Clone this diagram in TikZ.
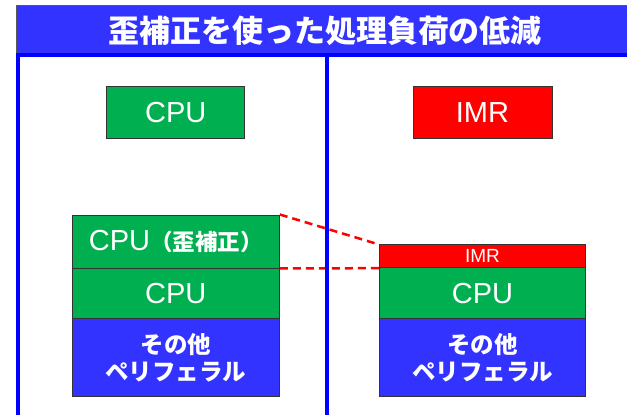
\documentclass[tikz,border=0pt]{standalone}
\usepackage{fontspec}
\setmainfont{Liberation Sans}
\newfontfamily\jp{Noto Sans CJK JP}
\definecolor{grn}{HTML}{00B050}
\definecolor{periblue}{HTML}{3333FF}
\definecolor{titleblue}{HTML}{3333FF}
\definecolor{framblue}{HTML}{0000FF}
\begin{document}
\begin{tikzpicture}[x=1pt,y=-1pt,
  blk/.style={draw=black!80, line width=1pt, text=white, inner sep=0pt, align=center},
  greenbox/.style={blk, fill=grn},
  redbox/.style={blk, fill=red},
  peribox/.style={blk, fill=periblue},
  big/.style={font=\fontsize{29}{30}\selectfont},
  peri/.style={font=\jp\bfseries\fontsize{23.5}{27}\selectfont},
  link/.style={draw=red, line width=2.5pt, dash pattern=on 8pt off 5pt},
  frame/.style={draw=framblue, line width=3.5pt}]
\useasboundingbox (0,0) rectangle (627,415);
% title
\node[fill=titleblue, draw=gray!70!black, line width=0.8pt, anchor=north west,
      minimum width=625, minimum height=50, inner sep=0pt] (title) at (16,5) {};
\node[text=white, font=\jp\bfseries\fontsize{31}{32}\selectfont, inner sep=0pt]
      (titletext) at (325,31) {歪補正を使った処理負荷の低減};
% top boxes
\node[greenbox, big, minimum width=138.3, minimum height=52.3] (cputop) at (175.8,112.8) {CPU};
\node[redbox, big, minimum width=139, minimum height=52.3] (imrtop) at (482.5,112.8) {IMR};
% left stack
\node[greenbox, minimum width=207, minimum height=53] (cpuh) at (175.8,241.5)
  {{\fontsize{29}{30}\selectfont CPU}{\jp\bfseries\fontsize{22.5}{24}\selectfont （歪補正）}};
\node[greenbox, big, minimum width=207, minimum height=51] (cpul) at (175.8,293.5) {CPU};
\node[peribox, peri, minimum width=207, minimum height=77.7] (perl) at (175.8,357.8) {その他\\ペリフェラル};
% right stack
\node[redbox, font=\fontsize{19}{20}\selectfont, minimum width=206.4, minimum height=22.7] (imrs) at (482.5,256.3) {IMR};
\node[greenbox, big, minimum width=206.4, minimum height=51.3] (cpur) at (482.5,293.4) {CPU};
\node[peribox, peri, minimum width=206.4, minimum height=77.7] (perr) at (482.5,357.8) {その他\\ペリフェラル};
% dashed links
\draw[link] (cpuh.north east) -- (imrs.north west);
\draw[link] (cpuh.south east) -- (imrs.south west);
% frame lines
\draw[frame] (18,55) -- (18,420);
\draw[frame] (327,55) -- (327,420);
\draw[frame] (16.25,55) -- (640,55);
\end{tikzpicture}
\end{document}
